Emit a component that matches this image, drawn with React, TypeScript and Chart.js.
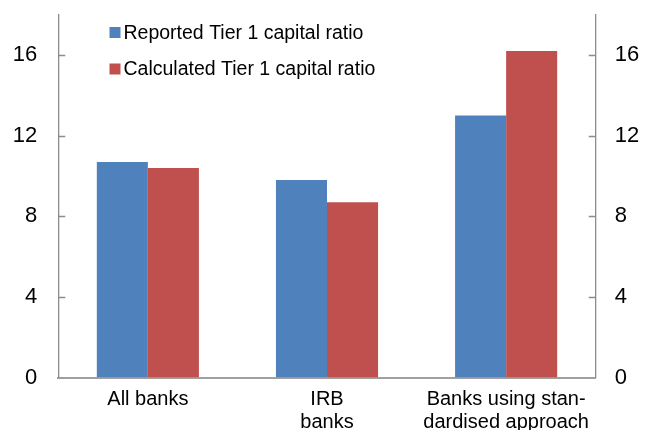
import React, { useEffect, useRef } from "react";
import { Chart, registerables } from "chart.js";

Chart.register(...registerables);

const categories: (string | string[])[] = [
  "All banks",
  ["IRB", "banks"],
  ["Banks using stan-", "dardised approach"],
];
const reportedRatio = [10.7, 9.8, 13.0];
const calculatedRatio = [10.4, 8.7, 16.2];
const seriesNames = ["Reported Tier 1 capital ratio", "Calculated Tier 1 capital ratio"];
const seriesColors = ["#4F81BD", "#C0504D"];
const yTicks = [0, 4, 8, 12, 16];

const FONT = "'Liberation Sans', Arial, Helvetica, sans-serif";
const AXIS_COLOR = "#8c8c8c";

// Short tick marks pointing into the plot from both value axes, plus the legend box.
const decorations = {
  id: "decorations",
  afterDraw(chart: any) {
    const { ctx, chartArea } = chart;
    const yl = chart.scales.y;
    ctx.save();
    ctx.strokeStyle = AXIS_COLOR;
    ctx.lineWidth = 1.3;
    yTicks.forEach((v) => {
      if (v === 0) return;
      const py = Math.round(yl.getPixelForValue(v)) + 0.5;
      ctx.beginPath();
      ctx.moveTo(chartArea.left, py);
      ctx.lineTo(chartArea.left + 7, py);
      ctx.moveTo(chartArea.right, py);
      ctx.lineTo(chartArea.right - 7, py);
      ctx.stroke();
    });

    ctx.font = `19.5px ${FONT}`;
    ctx.textBaseline = "alphabetic";
    ctx.textAlign = "left";
    seriesNames.forEach((name, i) => {
      const top = 27 + i * 36.5;
      ctx.fillStyle = seriesColors[i];
      ctx.fillRect(109.5, top, 11, 11);
      ctx.fillStyle = "#000";
      ctx.fillText(name, 123.5, top + 11.5);
    });
    ctx.restore();
  },
};

function noEdgePadding(scale: any) {
  scale.paddingTop = 0;
  scale.paddingBottom = 0;
}

export default function App() {
  const canvasRef = useRef<HTMLCanvasElement | null>(null);

  useEffect(() => {
    if (!canvasRef.current) return;
    const chart = new Chart(canvasRef.current, {
      type: "bar",
      data: {
        labels: categories,
        datasets: [
          {
            label: seriesNames[0],
            data: reportedRatio,
            backgroundColor: seriesColors[0],
            yAxisID: "y",
          },
          {
            label: seriesNames[1],
            data: calculatedRatio,
            backgroundColor: seriesColors[1],
            yAxisID: "y",
          },
        ],
      },
      options: {
        responsive: false,
        animation: false,
        layout: { padding: { top: 14.7, left: 0, right: 0, bottom: 0 } },
        datasets: {
          bar: { barPercentage: 1, categoryPercentage: 0.57 },
        },
        plugins: {
          legend: { display: false },
          tooltip: { enabled: false },
        },
        scales: {
          x: {
            grid: { display: false, drawTicks: false },
            border: { display: true, color: "#a0a0a0", width: 2 },
            ticks: {
              color: "#000",
              font: { family: FONT, size: 20, lineHeight: 1.15 },
              padding: 10,
              maxRotation: 0,
              autoSkip: false,
            },
            afterFit(scale: any) {
              scale.height = 430 - 377.7;
            },
          },
          y: {
            position: "left",
            min: 0,
            max: 18,
            grid: { display: true, drawOnChartArea: false, drawTicks: false },
            border: { display: true, color: AXIS_COLOR, width: 1.3 },
            afterBuildTicks(scale: any) {
              scale.ticks = yTicks.map((v) => ({ value: v }));
            },
            ticks: {
              color: "#000",
              font: { family: FONT, size: 22 },
              padding: 21,
            },
            afterFit(scale: any) {
              scale.width = 58.3;
              noEdgePadding(scale);
            },
          },
          y2: {
            position: "right",
            min: 0,
            max: 18,
            grid: { display: true, drawOnChartArea: false, drawTicks: false },
            border: { display: true, color: AXIS_COLOR, width: 1.3 },
            afterBuildTicks(scale: any) {
              scale.ticks = yTicks.map((v) => ({ value: v }));
            },
            ticks: {
              color: "#000",
              font: { family: FONT, size: 22 },
              padding: 19,
            },
            afterFit(scale: any) {
              scale.width = 645 - 595.7;
              noEdgePadding(scale);
            },
          },
        },
      },
      plugins: [decorations],
    });
    return () => chart.destroy();
  }, []);

  return (
    <div style={{ position: "fixed", left: 0, top: 0, width: 645, height: 430, background: "#fff" }}>
      <canvas ref={canvasRef} width={645} height={430} />
    </div>
  );
}
